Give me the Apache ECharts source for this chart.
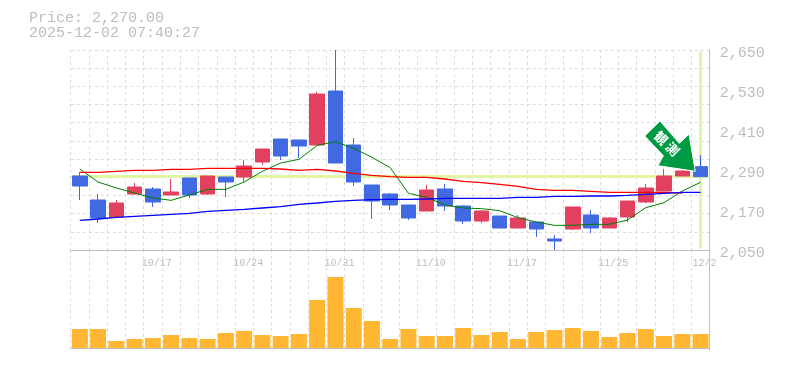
<!DOCTYPE html>
<html>
<head>
<meta charset="utf-8">
<title>Price chart</title>
<style>
  html, body { margin: 0; padding: 0; background: #fff; }
  #chart { width: 785px; height: 370px; }
</style>
<script src="https://cdn.jsdelivr.net/npm/echarts@6/dist/echarts.min.js"></script>
</head>
<body>
<div id="chart"></div>
<script>
const dates = ["10/10", "10/14", "10/15", "10/16", "10/17", "10/20", "10/21", "10/22", "10/23", "10/24", "10/27", "10/28", "10/29", "10/30", "10/31", "11/4", "11/5", "11/6", "11/7", "11/10", "11/11", "11/12", "11/13", "11/14", "11/17", "11/18", "11/19", "11/20", "11/21", "11/25", "11/26", "11/27", "11/28", "12/1", "12/2"];
const opens = [2272, 2200, 2149, 2218, 2233, 2215, 2266, 2218, 2269, 2269, 2314, 2383, 2380, 2365, 2527, 2365, 2245, 2218, 2185, 2167, 2233, 2182, 2137, 2152, 2116, 2134, 2083, 2113, 2155, 2116, 2149, 2194, 2227, 2272, 2300];
const closes = [2242, 2146, 2191, 2239, 2194, 2224, 2215, 2272, 2254, 2302, 2353, 2332, 2362, 2518, 2311, 2254, 2197, 2185, 2146, 2230, 2182, 2137, 2167, 2116, 2146, 2113, 2077, 2179, 2116, 2146, 2197, 2236, 2272, 2287, 2270];
const lows = [2200, 2131, 2149, 2215, 2179, 2215, 2206, 2215, 2209, 2254, 2305, 2320, 2326, 2365, 2311, 2242, 2143, 2170, 2140, 2167, 2167, 2128, 2131, 2116, 2116, 2089, 2050, 2110, 2101, 2116, 2134, 2191, 2227, 2272, 2270];
const highs = [2284, 2218, 2200, 2251, 2239, 2263, 2266, 2272, 2269, 2320, 2353, 2383, 2380, 2524, 2650, 2386, 2245, 2221, 2185, 2245, 2248, 2185, 2170, 2152, 2155, 2134, 2095, 2179, 2170, 2149, 2197, 2248, 2293, 2287, 2335];
const maShort = [2293, 2254, 2236, 2221, 2206, 2199, 2215, 2232, 2232, 2254, 2286, 2311, 2322, 2364, 2375, 2355, 2328, 2297, 2220, 2208, 2185, 2176, 2174, 2168, 2147, 2134, 2124, 2124, 2127, 2127, 2140, 2177, 2192, 2227, 2253];
const maMiddle = [2283, 2283, 2286, 2289, 2289, 2292, 2292, 2295, 2295, 2295, 2295, 2293, 2289, 2292, 2287, 2280, 2274, 2270, 2268, 2268, 2263, 2256, 2252, 2247, 2241, 2232, 2229, 2229, 2226, 2223, 2223, 2223, 2223, 2221, null];
const maLong = [2139, 2143, 2148, 2151, 2154, 2157, 2160, 2166, 2169, 2172, 2176, 2180, 2187, 2191, 2196, 2199, 2201, 2202, 2202, 2203, 2205, 2205, 2205, 2205, 2208, 2208, 2211, 2211, 2212, 2212, 2214, 2217, 2220, 2223, 2223];
const volumes = [19, 19, 7, 9, 10, 13, 10, 9, 15, 17, 13, 12, 14, 48, 71, 40, 27, 9, 19, 12, 12, 20, 13, 16, 9, 16, 18, 20, 17, 11, 15, 19, 12, 14, 14];
const lastPrice = 2270;
const priceText = "Price: 2,270.00";
const timeText = "2025-12-02 07:40:27";
const arrowText = ["観", "測"];

const FONT = "'Liberation Mono', monospace";
const GRAY = "#bdbdbd";
const GRID_LINE = { show: true, interval: 0, lineStyle: { color: "#dcdcdc", type: [3, 3], width: 1 } };
const HILITE = "#e2f5a4";

const chart = echarts.init(document.getElementById("chart"));

chart.setOption({
  animation: false,
  backgroundColor: "#fff",
  title: {
    left: 29,
    top: 11,
    padding: 0,
    text: priceText + "\n" + timeText,
    textStyle: { fontFamily: FONT, fontSize: 15, fontWeight: "normal", color: GRAY, lineHeight: 15 }
  },
  grid: [
    { left: 70.7, top: 50, width: 639, height: 200 },
    { left: 70.7, top: 250, width: 639, height: 100 }
  ],
  xAxis: [
    {
      type: "category",
      gridIndex: 0,
      data: dates,
      axisTick: { show: false },
      axisLine: { lineStyle: { color: GRAY, width: 1 } },
      splitLine: GRID_LINE,
      axisLabel: {
        // 每5根K线显示一个日期
        interval: (i) => i % 5 === 4,
        color: GRAY,
        fontFamily: FONT,
        fontSize: 10,
        margin: 8,
        padding: [0, 0, 0, 8]
      }
    },
    {
      type: "category",
      gridIndex: 1,
      data: dates,
      axisTick: { show: false },
      axisLabel: { show: false },
      axisLine: { lineStyle: { color: GRAY, width: 1 } },
      splitLine: GRID_LINE
    }
  ],
  yAxis: [
    {
      type: "value",
      gridIndex: 0,
      position: "right",
      min: 2050,
      max: 2650,
      interval: 120,
      splitLine: { show: false },
      axisTick: { show: false },
      axisLine: { show: true, lineStyle: { color: GRAY, width: 1 } },
      axisLabel: {
        color: GRAY,
        fontFamily: FONT,
        fontSize: 15,
        margin: 10,
        // 刻度文字比刻度位置低3px左右
        verticalAlign: "top",
        lineHeight: 7,
        formatter: (v) => v.toLocaleString("en-US")
      }
    },
    {
      // 横向虚线是11等分,和价格刻度不对齐
      type: "value",
      gridIndex: 0,
      position: "left",
      min: 0,
      max: 11,
      interval: 1,
      axisLine: { show: false },
      axisTick: { show: false },
      axisLabel: { show: false },
      splitLine: { show: true, lineStyle: { color: "#dcdcdc", type: [3, 3], width: 1 } }
    },
    {
      type: "value",
      gridIndex: 1,
      position: "right",
      min: -2,
      max: 98,
      splitLine: { show: false },
      axisTick: { show: false },
      axisLabel: { show: false },
      axisLine: { show: true, lineStyle: { color: GRAY, width: 1 } }
    }
  ],
  series: [
    {
      type: "line",
      xAxisIndex: 0,
      yAxisIndex: 0,
      data: [],
      silent: true,
      markLine: {
        silent: true,
        z: 1,
        symbol: "none",
        label: { show: false },
        lineStyle: { color: HILITE, type: "solid", width: 3 },
        data: [
          { yAxis: lastPrice },
          [{ coord: [dates.length - 1, 2647] }, { coord: [dates.length - 1, 2054] }]
        ]
      }
    },
    { type: "line", xAxisIndex: 0, yAxisIndex: 0, data: maShort, showSymbol: false, lineStyle: { color: "#008000", width: 1 } },
    { type: "line", xAxisIndex: 0, yAxisIndex: 0, data: maMiddle, showSymbol: false, lineStyle: { color: "#ff0000", width: 1.4 } },
    { type: "line", xAxisIndex: 0, yAxisIndex: 0, data: maLong, showSymbol: false, lineStyle: { color: "#0000ff", width: 1.4 } },
    {
      type: "candlestick",
      xAxisIndex: 0,
      yAxisIndex: 0,
      barWidth: 15,
      data: dates.map((d, i) => [opens[i], closes[i], lows[i], highs[i]]),
      itemStyle: {
        color: "#e1415f",
        borderColor: "#e1415f",
        color0: "#4169e1",
        borderColor0: "#4169e1",
        borderWidth: 1
      }
    },
    {
      type: "bar",
      xAxisIndex: 1,
      yAxisIndex: 2,
      barWidth: 16,
      data: volumes,
      itemStyle: { color: "#ffb733" }
    }
  ],
  graphic: [
    {
      type: "polygon",
      z: 100,
      shape: { points: [[660, 121], [644.7, 136], [663.3, 155.7], [658, 165.7], [695.3, 171.3], [689, 134], [679.3, 143.3]] },
      style: { fill: "#009944", stroke: "#fff", lineWidth: 1 }
    },
    {
      type: "text",
      z: 101,
      x: 661,
      y: 138,
      rotation: -Math.PI / 4,
      style: { text: arrowText[0], fill: "#fff", font: "bold 13px 'Noto Sans CJK JP'", align: "center", verticalAlign: "middle" }
    },
    {
      type: "text",
      z: 101,
      x: 672.7,
      y: 149,
      rotation: -Math.PI / 4,
      style: { text: arrowText[1], fill: "#fff", font: "bold 13px 'Noto Sans CJK JP'", align: "center", verticalAlign: "middle" }
    }
  ]
});
</script>
</body>
</html>
